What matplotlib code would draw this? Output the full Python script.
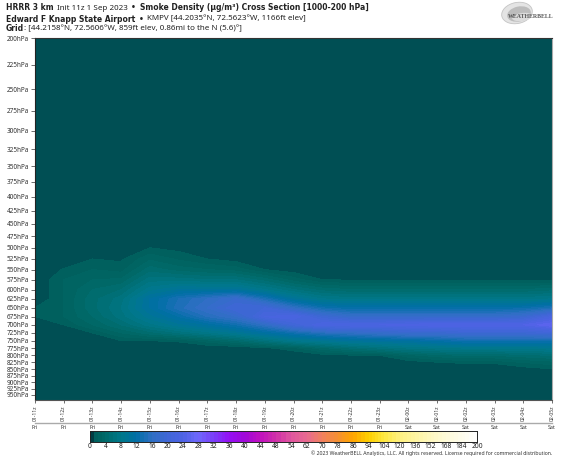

import numpy as np
import matplotlib
matplotlib.use("Agg")
import matplotlib.pyplot as plt
from matplotlib.colors import ListedColormap, BoundaryNorm
from matplotlib.patches import Ellipse

W, H = 562, 461
plt.rcParams['font.family'] = ['Noto Sans', 'DejaVu Sans']

hours = list(range(19))
time_labels = ["01-11z","01-12z","01-13z","01-14z","01-15z","01-16z","01-17z","01-18z","01-19z","01-20z",
               "01-21z","01-22z","01-23z","02-00z","02-01z","02-02z","02-03z","02-04z","02-05z"]
day_labels = ["Fri"]*13 + ["Sat"]*6
tick_pressures = list(range(200, 951, 25))
pressure_levels = [450,475,500,525,550,575,600,625,650,675,700,725,750,775,800,825,850,875]

smoke = np.array([
 # 11  12  13  14  15  16  17  18  19  20  21  22  23  00  01  02  03  04  05
 [ 0,  0,  0,  0,  0,  0,  0,  0,  0,  0,  0,  0,  0,  0,  0,  0,  0,  0,  0],
 [ 0,  0,  0,  0,  0,  0,  0,  0,  0,  0,  0,  0,  0,  0,  0,  0,  0,  0,  0],
 [ 0,  0,  0,  0,1.0,0.6,  0,  0,  0,  0,  0,  0,  0,  0,  0,  0,  0,  0,  0],
 [ 0,  0,1.0,0.8,2.8,1.8,1.0,0.5,  0,  0,  0,  0,  0,  0,  0,  0,  0,  0,  0],
 [ 0,1.1,2.0,1.6,4.5,3.5,3.0,2.5,1.0,0.4,  0,  0,  0,  0,  0,  0,  0,  0,  0],
 [ 0,2.0,3.0,3.2,6.5,6.5,6.0,6.0,4.5,2.5,1.0,0.9,0.8,0.7,0.7,0.8,0.7,0.8,0.8],
 [ 0,2.0,4.0,5.0,8.5,10.,10.,10.,8.0,6.0,4.5,4.0,4.0,4.0,4.0,4.0,4.0,4.0,4.5],
 [ 0,2.0,4.6,6.5,11.,14.,16.,18.,14.,10.,8.0,7.5,7.5,7.5,7.5,7.5,7.5,7.5,8.0],
 [1.0,2.0,4.6,7.0,11.,14.5,17.,20.,20.,16.,13.,12.,12.,12.,12.,12.,12.,12.5,14.],
 [1.0,2.0,4.0,6.5,9.5,12.,15.,17.,22.,23.,19.,17.,17.,17.,17.,17.,17.,18.,22.],
 [0.5,1.0,3.0,5.0,7.5,9.5,11.,13.,16.,20.,23.,23.,23.,23.5,24.,24.,24.,24.,26.],
 [ 0,0.4,1.0,3.0,4.5,6.0,7.5,9.0,11.,13.,15.,16.,17.,18.,18.,19.,19.,19.,20.],
 [ 0,  0,  0,1.0,1.0,1.2,2.5,4.0,6.0,8.0,9.0,10.,10.5,11.,12.,13.,13.,13.,13.],
 [ 0,  0,  0,  0,  0,  0,  0,  0,0.7,1.6,3.5,5.0,6.0,7.0,7.5,8.0,8.0,8.0,8.5],
 [ 0,  0,  0,  0,  0,  0,  0,  0,  0,  0,0.5,0.8,1.0,2.5,3.5,4.0,4.0,4.5,5.0],
 [ 0,  0,  0,  0,  0,  0,  0,  0,  0,  0,  0,  0,  0,0.4,0.9,1.2,1.2,2.0,2.5],
 [ 0,  0,  0,  0,  0,  0,  0,  0,  0,  0,  0,  0,  0,  0,  0,  0,  0,0.4,0.9],
 [ 0,  0,  0,  0,  0,  0,  0,  0,  0,  0,  0,  0,  0,  0,  0,  0,  0,  0,  0],
])

cbar_ticks = [0,4,8,12,16,20,24,28,32,36,40,44,48,54,62,70,78,86,94,104,120,136,152,168,184,200]
anchor_values = [0,1,1.01,2,4,8,12,16,20,24,28,32,36,40,44,48,54,62,70,78,86,94,104,120,136,152,168,184,200]
anchor_colors = ["#002b33","#004f54","#005e5e","#00625f","#006a6a","#00788a","#006fa5","#2f6fc4","#3f66d6","#4e62e4","#6e68fc","#7a3cf8",
               "#9410f4","#a008d8","#c010c0","#d030a8","#e0559f","#e86a90","#f08060","#f59030","#ffa500",
               "#ffd000","#ffe840","#fff080","#fff4a0","#fff8c0","#fffbd8","#fffdec","#ffffff"]
field_floor_color = "#004f54"

def fx(px): return px / W
def fy(py): return 1 - py / H

fig = plt.figure(figsize=(W/100, H/100), dpi=100, facecolor='white')

levels_vals = np.array(sorted(set(list(np.arange(0, 48, 1.0)) + list(np.arange(48, 104, 2.0)) + list(np.arange(104, 201, 4.0)))))
tick_idx = np.arange(len(cbar_ticks))
val_to_idx = lambda v: np.interp(v, cbar_ticks, tick_idx)
rgb = np.array([matplotlib.colors.to_rgb(c) for c in anchor_colors])
def col_for(v):
    return tuple(np.interp(v, anchor_values, rgb[:, i]) for i in range(3))
level_colors = [col_for((a+b)/2) for a, b in zip(levels_vals[:-1], levels_vals[1:])]
fill_colors = [field_floor_color] + level_colors[1:]
cmap = ListedColormap(fill_colors)
norm = BoundaryNorm(levels_vals, cmap.N)

ax = fig.add_axes([fx(35), fy(400), (552-35)/W, (400-38)/H])
ax.set_facecolor(field_floor_color)
ax.contourf(hours, pressure_levels, smoke, levels=levels_vals, cmap=cmap, norm=norm, antialiased=False)
ax.set_yscale('log')
ax.set_ylim(972, 200)
ax.set_xlim(0, 18)
ax.yaxis.set_major_locator(matplotlib.ticker.FixedLocator(tick_pressures))
ax.yaxis.set_minor_locator(matplotlib.ticker.NullLocator())
ax.set_yticklabels([f"{p}hPa" for p in tick_pressures], fontsize=4.6, color='#333333')
ax.set_xticks(hours)
ax.set_xticklabels(time_labels, rotation=90, fontsize=3.6, color='#333333')
ax.tick_params(axis='y', length=3, width=0.6, pad=1.5, color='#555555')
ax.tick_params(axis='x', length=2, width=0.6, pad=2, color='#555555')
for s, sp in ax.spines.items():
    sp.set_linewidth(0.8)
ax.spines['left'].set_color('#222222')
ax.spines['top'].set_color('#333333')
ax.spines['bottom'].set_color('#555555')
ax.spines['right'].set_color('#aaaaaa')

# separator and weekdays
fig.add_artist(plt.Line2D([fx(35), fx(552)], [fy(423), fy(423)], color='#aaaaaa', lw=1.0))
for h, d in zip(hours, day_labels):
    fig.text(fx(35 + h*(552-35)/18), fy(427), d, fontsize=3.8, ha='center', va='center', color='#333333')

# colorbar
cax = fig.add_axes([fx(90), fy(441.5), (477-90)/W, 10.5/H])
n_seg = len(levels_vals) - 1
edges = val_to_idx(levels_vals)
cax.pcolormesh(edges, [0, 1], np.arange(n_seg).reshape(1, -1), cmap=ListedColormap(level_colors),
               norm=BoundaryNorm(np.arange(n_seg+1)-0.5, n_seg), shading='flat')
cax.set_xlim(0, len(cbar_ticks)-1)
cax.set_yticks([])
cax.set_xticks(tick_idx)
cax.set_xticklabels([str(t) for t in cbar_ticks], fontsize=4.8, color='#222222')
cax.tick_params(axis='x', length=0, pad=1)
for sp in cax.spines.values():
    sp.set_linewidth(0.7)
    sp.set_color('#222222')

# titles
def rich(px, py, parts, size=5.5):
    r = fig.canvas.get_renderer()
    x = fx(px)
    for txt, weight in parts:
        fam = 'DejaVu Sans' if weight == 'bold' else 'Noto Sans'
        sz = size if weight == 'bold' else size + 0.25
        t = fig.text(x, fy(py), txt, fontsize=sz, fontweight=weight, family=fam, va='center', ha='left', color='#222222')
        x = t.get_window_extent(r).x1 / W + (1.0 / W if txt.endswith(' ') else 0)

rich(6, 8, [("HRRR 3 km ", 'bold'), ("Init 11z 1 Sep 2023 ", 'normal'), ("• ", 'bold'),
            ("Smoke Density (µg/m³) Cross Section [1000-200 hPa]", 'bold')])
rich(6, 19, [("Edward F Knapp State Airport ", 'bold'), ("• ", 'bold'),
             ("KMPV [44.2035°N, 72.5623°W, 1166ft elev]", 'normal')])
rich(6, 28.5, [("Grid", 'bold'), (": [44.2158°N, 72.5606°W, 859ft elev, 0.86mi to the N (5.6)°]", 'normal')])

fig.text(fx(552), fy(453), "© 2023 WeatherBELL Analytics, LLC. All rights reserved. License required for commercial distribution.",
         fontsize=3.7, ha='right', va='center', color='#333333')

# logo
lax = fig.add_axes([0, 0, 1, 1], facecolor='none')
lax.set_xlim(0, W); lax.set_ylim(H, 0); lax.axis('off')
lax.add_patch(Ellipse((517, 13), 31, 21, angle=-12, fc='#e4e4e4', ec='#c4c4c4', lw=0.6))
lax.add_patch(Ellipse((519, 14), 24, 15, angle=-12, fc='#bcbcbc', ec='none'))
lax.add_patch(Ellipse((522, 17), 20, 8, angle=-8, fc='#dcdcdc', ec='none'))
lax.text(531, 17, "WEATHERBELL", fontsize=4.2, ha='center', va='center', color='#555555',
         fontweight='bold', family='Liberation Serif')

fig.savefig("out.png", dpi=100)
